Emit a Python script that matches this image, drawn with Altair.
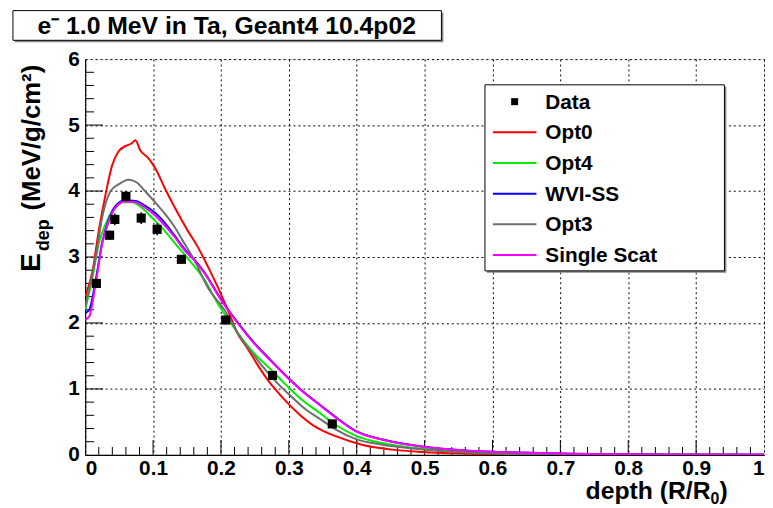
import altair as alt
import pandas as pd

FONT = "Liberation Sans"

# ---------------- data ----------------
data_x = [0.0165, 0.036, 0.0437, 0.060, 0.0825, 0.106, 0.1417, 0.207, 0.276, 0.364]
data_y = [2.60, 3.33, 3.57, 3.92, 3.59, 3.42, 2.965, 2.045, 1.205, 0.47]
data_err = [0.07, 0.07, 0.09, 0.08, 0.09, 0.09, 0.06, 0.05, 0.05, 0.04]

opt0_x = [0, 0.011, 0.02, 0.03, 0.04, 0.049, 0.059, 0.068, 0.074, 0.081, 0.093, 0.103,
          0.117, 0.132, 0.151, 0.166, 0.181, 0.195, 0.21, 0.224, 0.24, 0.253, 0.268,
          0.282, 0.297, 0.316, 0.34, 0.37, 0.409, 0.452, 0.496, 0.554, 0.62, 0.7, 1.0]
opt0_y = [2.4, 2.8, 3.4, 3.95, 4.4, 4.6, 4.68, 4.72, 4.77, 4.62, 4.5, 4.35,
          4.05, 3.75, 3.4, 3.15, 2.85, 2.55, 2.2, 1.85, 1.6, 1.38, 1.15,
          0.97, 0.80, 0.61, 0.42, 0.28, 0.15, 0.08, 0.045, 0.02, 0.007, 0.002, 0.0]

opt4_x = [0, 0.011, 0.02, 0.03, 0.04, 0.054, 0.069, 0.083, 0.098, 0.1125, 0.137, 0.151,
          0.176, 0.195, 0.2145, 0.2245, 0.248, 0.273, 0.297, 0.321, 0.345, 0.37, 0.399,
          0.438, 0.476, 0.515, 0.564, 0.65, 0.75, 1.0]
opt4_y = [2.2, 2.7, 3.2, 3.5, 3.7, 3.83, 3.83, 3.75, 3.6, 3.45, 3.15, 2.98,
          2.65, 2.3, 2.0, 1.85, 1.55, 1.3, 1.05, 0.82, 0.64, 0.45, 0.29,
          0.18, 0.115, 0.08, 0.045, 0.012, 0.004, 0.0]

opt3_x = [0, 0.0155, 0.025, 0.0375, 0.049, 0.064, 0.076, 0.088, 0.103, 0.117, 0.132,
          0.1465, 0.161, 0.18, 0.205, 0.229, 0.253, 0.2775, 0.302, 0.326, 0.345, 0.37,
          0.399, 0.438, 0.476, 0.515, 0.564, 0.65, 0.75, 1.0]
opt3_y = [2.25, 3.0, 3.6, 4.0, 4.1, 4.17, 4.13, 4.0, 3.83, 3.66, 3.45,
          3.2, 2.95, 2.55, 2.2, 1.78, 1.45, 1.15, 0.9, 0.68, 0.55, 0.38,
          0.24, 0.155, 0.105, 0.065, 0.035, 0.01, 0.003, 0.0]

ss_x = [0, 0.006, 0.0155, 0.025, 0.035, 0.0445, 0.059, 0.074, 0.088, 0.103, 0.117,
        0.132, 0.1465, 0.161, 0.176, 0.2, 0.2245, 0.248, 0.273, 0.297, 0.321, 0.345,
        0.37, 0.399, 0.438, 0.476, 0.515, 0.564, 0.612, 0.7, 0.8, 1.0]
ss_y = [2.05, 2.1, 2.6, 3.2, 3.55, 3.75, 3.84, 3.83, 3.75, 3.63, 3.48,
        3.3, 3.1, 2.95, 2.75, 2.35, 2.0, 1.7, 1.43, 1.18, 0.955, 0.76,
        0.56, 0.355, 0.23, 0.155, 0.105, 0.065, 0.045, 0.02, 0.01, 0.005]

wvi_x = ss_x
wvi_y = [2.15, 2.2, 2.65, 3.22, 3.57, 3.77, 3.86, 3.85, 3.78, 3.67, 3.52,
         3.32, 3.12, 2.96, 2.76, 2.36, 2.01, 1.71, 1.44, 1.19, 0.96, 0.765,
         0.565, 0.36, 0.235, 0.16, 0.105, 0.065, 0.045, 0.02, 0.01, 0.005]

series_names = ["Opt0", "Opt4", "WVI-SS", "Opt3", "Single Scat"]
series_colors = ["#ff0000", "#00ee00", "#0000ff", "#6e6e6e", "#ff00ff"]
series_xs = [opt0_x, opt4_x, wvi_x, opt3_x, ss_x]
series_ys = [opt0_y, opt4_y, wvi_y, opt3_y, ss_y]

x_major = [round(0.1 * i, 1) for i in range(11)]
x_minor = [round(0.02 * i, 2) for i in range(1, 50) if i % 5 != 0]
y_major = [0, 1, 2, 3, 4, 5, 6]
y_minor = [round(0.2 * i, 1) for i in range(1, 30) if i % 5 != 0]

legend_labels = ["Data"] + series_names
legend_colors = ["#000000"] + series_colors

title_text = "e\u207b 1.0 MeV in Ta, Geant4 10.4p02"
x_title_main = "depth (R/R"
x_title_sub = "0"
x_title_end = ")"

# ---------------- geometry (pixels) ----------------
W, H = 686, 400

xs = alt.Scale(domain=[0, 1], nice=False, zero=False)
ys = alt.Scale(domain=[0, 6], nice=False, zero=False)

one = pd.DataFrame({"a": [0]})

layers = []

# axis / grid carrier
axis_df = pd.DataFrame({"x": [0.0], "y": [0.0]})
layers.append(
    alt.Chart(axis_df).mark_point(opacity=0).encode(
        x=alt.X("x:Q", scale=xs, axis=alt.Axis(
            values=x_major, grid=True, gridDash=[2, 3], gridColor="#000000", gridWidth=1,
            ticks=False, domain=True, domainColor="#000000", domainWidth=1.2,
            labelFont=FONT, labelFontWeight="bold", labelFontSize=21, labelColor="#000",
            labelPadding=3, title=None, labelFlush=True,
            labelExpr="datum.value == 0 ? '0' : (datum.value == 1 ? '1' : format(datum.value, '.1f'))")),
        y=alt.Y("y:Q", scale=ys, axis=alt.Axis(
            values=y_major, grid=True, gridDash=[2, 3], gridColor="#000000", gridWidth=1,
            ticks=False, domain=True, domainColor="#000000", domainWidth=1.2,
            labelFont=FONT, labelFontWeight="bold", labelFontSize=21, labelColor="#000",
            labelPadding=6, title=None, labelFlush=False, format="d")),
    )
)

# inward ticks
for vals, ln in ((x_major[1:-1], 15), (x_minor, 8)):
    layers.append(
        alt.Chart(pd.DataFrame({"t": vals})).mark_rule(color="#000", strokeWidth=1).encode(
            x=alt.X("t:Q", scale=xs), y=alt.value(H), y2=alt.value(H - ln))
    )
for vals, ln in ((y_major[1:-1], 18), (y_minor, 9)):
    layers.append(
        alt.Chart(pd.DataFrame({"t": vals})).mark_rule(color="#000", strokeWidth=1).encode(
            y=alt.Y("t:Q", scale=ys), x=alt.value(0), x2=alt.value(ln))
    )

# curves
for name, col, sx, sy in zip(series_names, series_colors, series_xs, series_ys):
    df = pd.DataFrame({"x": sx, "y": sy})
    layers.append(
        alt.Chart(df).mark_line(color=col, strokeWidth=2, clip=True, interpolate="monotone").encode(
            x=alt.X("x:Q", scale=xs), y=alt.Y("y:Q", scale=ys))
    )

# data points
ddf = pd.DataFrame({"x": data_x, "y": data_y, "e": data_err})
ddf["lo"] = ddf["y"] - ddf["e"]
ddf["hi"] = ddf["y"] + ddf["e"]
layers.append(
    alt.Chart(ddf).mark_rule(color="#000", strokeWidth=1.5).encode(
        x=alt.X("x:Q", scale=xs), y=alt.Y("lo:Q", scale=ys), y2="hi:Q")
)
layers.append(
    alt.Chart(ddf).mark_square(color="#000", size=85, opacity=1).encode(
        x=alt.X("x:Q", scale=xs), y=alt.Y("y:Q", scale=ys))
)

# legend box
LX0, LX1, LY0, LY1 = 404, 646, 26, 214
layers.append(alt.Chart(one).mark_rect(fill="#888888").encode(
    x=alt.value(LX0 + 2), x2=alt.value(LX1 + 2), y=alt.value(LY0 + 2), y2=alt.value(LY1 + 2)))
layers.append(alt.Chart(one).mark_rect(fill="white", stroke="#000", strokeWidth=1).encode(
    x=alt.value(LX0), x2=alt.value(LX1), y=alt.value(LY0), y2=alt.value(LY1)))
row_y = [43, 74, 105, 136, 167, 198]
for i, (lab, col) in enumerate(zip(legend_labels, legend_colors)):
    yy = row_y[i]
    if i == 0:
        layers.append(alt.Chart(one).mark_square(color="#000", size=50, opacity=1).encode(
            x=alt.value(434), y=alt.value(yy)))
    else:
        layers.append(alt.Chart(one).mark_rule(color=col, strokeWidth=2).encode(
            x=alt.value(412), x2=alt.value(456), y=alt.value(yy)))
    layers.append(alt.Chart(one).mark_text(
        text=lab, font=FONT, fontWeight="bold", fontSize=21, align="left", baseline="middle",
        color="#000").encode(x=alt.value(465), y=alt.value(yy + 1)))

# title box
layers.append(alt.Chart(one).mark_rect(fill="#888888").encode(
    x=alt.value(-71), x2=alt.value(362), y=alt.value(-47), y2=alt.value(-17)))
layers.append(alt.Chart(one).mark_rect(fill="white", stroke="#000", strokeWidth=1).encode(
    x=alt.value(-73), x2=alt.value(360), y=alt.value(-49), y2=alt.value(-19)))
layers.append(alt.Chart(one).mark_text(
    text=title_text, font=FONT, fontWeight="bold", fontSize=25, align="center",
    baseline="middle", color="#000").encode(x=alt.value(143), y=alt.value(-33)))

# x title (with subscript)
layers.append(alt.Chart(one).mark_text(
    text=x_title_main, font=FONT, fontWeight="bold", fontSize=25, align="right",
    baseline="alphabetic", color="#000").encode(x=alt.value(632), y=alt.value(445)))
layers.append(alt.Chart(one).mark_text(
    text=x_title_sub, font=FONT, fontWeight="bold", fontSize=16, align="left",
    baseline="alphabetic", color="#000").encode(x=alt.value(632), y=alt.value(450)))
layers.append(alt.Chart(one).mark_text(
    text=x_title_end, font=FONT, fontWeight="bold", fontSize=25, align="left",
    baseline="alphabetic", color="#000").encode(x=alt.value(641), y=alt.value(445)))

# y title
layers.append(alt.Chart(one).mark_text(
    text="E", font=FONT, fontWeight="bold", fontSize=28, align="left", angle=270,
    baseline="alphabetic", color="#000").encode(x=alt.value(-46), y=alt.value(215)))
layers.append(alt.Chart(one).mark_text(
    text="dep", font=FONT, fontWeight="bold", fontSize=18, align="left", angle=270,
    baseline="alphabetic", color="#000").encode(x=alt.value(-37), y=alt.value(194)))
layers.append(alt.Chart(one).mark_text(
    text="(MeV/g/cm\u00b2)", font=FONT, fontWeight="bold", fontSize=26, align="left", angle=270,
    baseline="alphabetic", color="#000").encode(x=alt.value(-46), y=alt.value(153)))

chart = alt.layer(*layers).properties(
    width=W, height=H,
    autosize=alt.AutoSizeParams(type="none"),
    padding={"left": 78, "top": 49, "right": 1, "bottom": 51},
).configure_view(stroke="#000", strokeWidth=1).configure(background="white")

chart.save("out.html", embed_options={"renderer": "svg", "actions": False})
